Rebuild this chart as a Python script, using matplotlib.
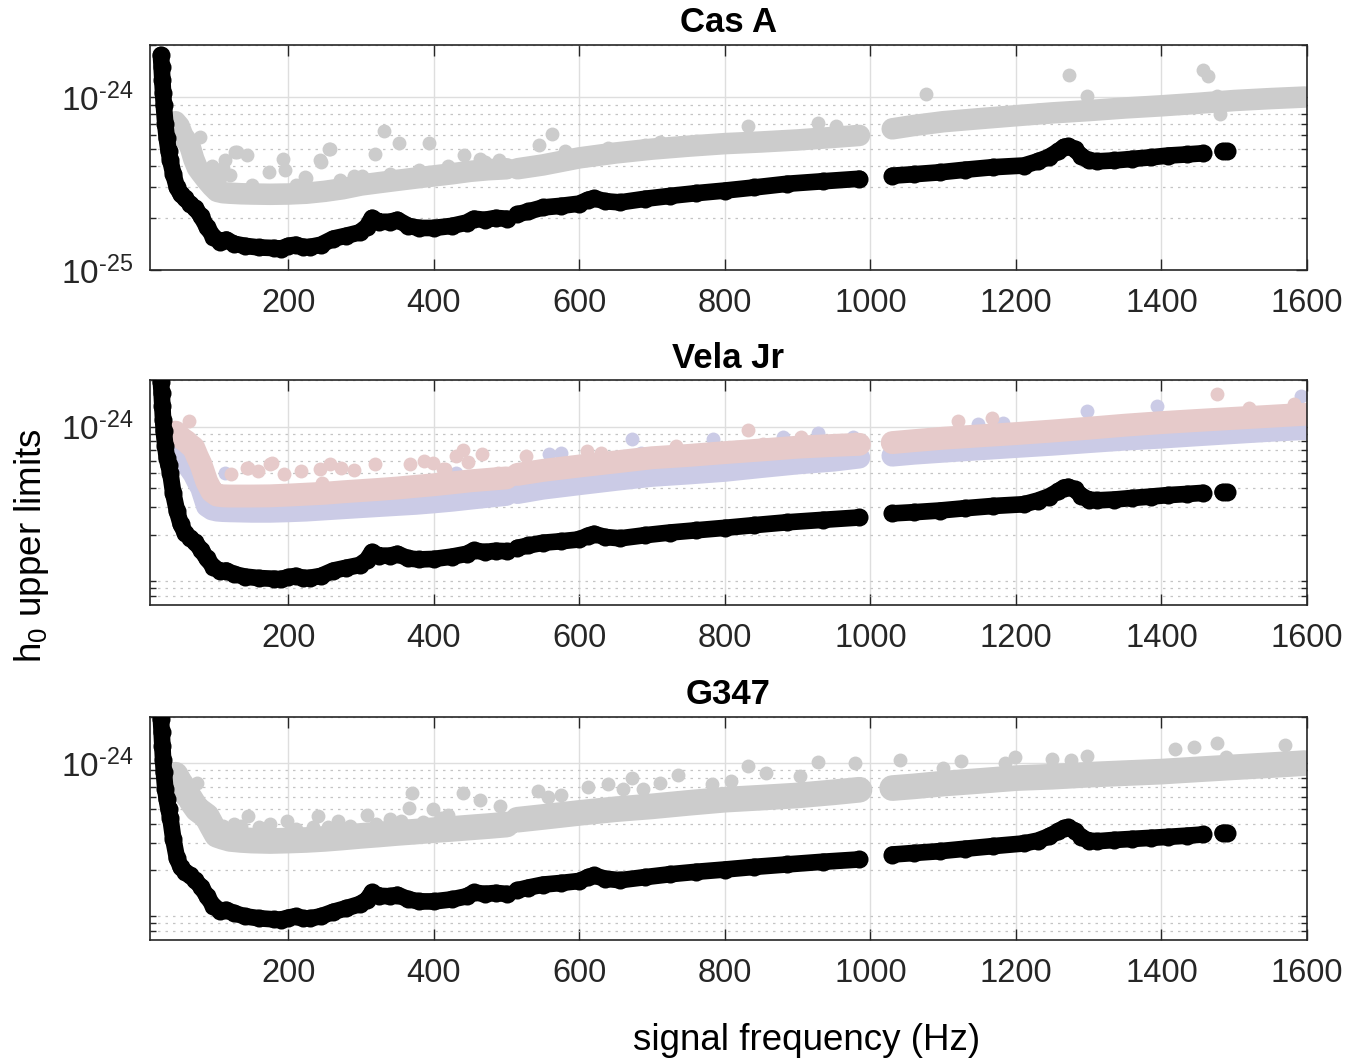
import numpy as np
import matplotlib
matplotlib.use('Agg')
import matplotlib.pyplot as plt
from matplotlib.ticker import FixedLocator, NullFormatter, FixedFormatter

plt.rcParams['font.family'] = ['Liberation Sans', 'DejaVu Sans']
plt.rcParams['mathtext.fontset'] = 'custom'
plt.rcParams['mathtext.rm'] = 'Liberation Sans'
plt.rcParams['mathtext.it'] = 'Liberation Sans:italic'
plt.rcParams['mathtext.bf'] = 'Liberation Sans:bold'

nan = float('nan')
UNIT = 1e-25  # all h0 values below are in units of 1e-25

# ---------------- sensitivity curve (black), shared frequency grid ----------------
F_BLACK = [25, 26, 27, 28, 29, 31, 33, 35.5, 38, 42,
           47, 52, 58, 65, 72, 80, 88, 97, 106, 115,
           125, 140, 160, 180, 190, 200, 210, 220, 230, 245,
           262, 280, 298, 308, 315, 325, 340, 350, 365, 380,
           400, 425, 445, 455, 470, 485, 500, nan,
           515, 530, 550, 575, 600, 612, 620, 635, 656, 690,
           724, 760, 800, 840, 885, 935, 985, nan,
           1030, 1060, 1095, 1130, 1168, 1211, 1230, 1245, 1258, 1266,
           1272, 1281, 1290, 1300, 1312, 1335, 1360, 1385, 1409, 1435,
           1457, nan, 1484, 1490]

CASA_BLACK = [17.5, 15.0, 12.5, 10.5, 9.0, 7.0, 5.8, 4.9, 4.3, 3.6,
              3.0, 2.75, 2.6, 2.41, 2.28, 2.05, 1.78, 1.56, 1.46, 1.50,
              1.42, 1.38, 1.35, 1.34, 1.33, 1.38, 1.40, 1.36, 1.36, 1.40,
              1.52, 1.58, 1.65, 1.78, 2.00, 1.90, 1.90, 1.95, 1.80, 1.75,
              1.75, 1.80, 1.88, 1.98, 1.95, 2.00, 1.98, nan,
              2.10, 2.18, 2.30, 2.35, 2.42, 2.55, 2.60, 2.50, 2.46, 2.58,
              2.68, 2.78, 2.88, 3.00, 3.15, 3.26, 3.37, nan,
              3.51, 3.58, 3.67, 3.80, 3.93, 4.02, 4.25, 4.50, 4.85, 5.15,
              5.20, 5.00, 4.55, 4.30, 4.25, 4.30, 4.39, 4.48, 4.59, 4.66,
              4.73, nan, 4.86, 4.86]

VELA_BLACK = [19.5, 16.5, 13.5, 11.0, 9.3, 7.5, 6.3, 5.6, 5.0, 3.7,
              2.85, 2.35, 2.05, 1.90, 1.78, 1.60, 1.40, 1.24, 1.16, 1.17,
              1.11, 1.07, 1.045, 1.035, 1.03, 1.06, 1.08, 1.05, 1.05, 1.08,
              1.17, 1.22, 1.27, 1.37, 1.54, 1.46, 1.46, 1.50, 1.40, 1.38,
              1.39, 1.44, 1.50, 1.58, 1.54, 1.57, 1.56, nan,
              1.64, 1.70, 1.77, 1.81, 1.86, 1.97, 2.02, 1.93, 1.89, 1.98,
              2.06, 2.13, 2.21, 2.30, 2.40, 2.49, 2.58, nan,
              2.74, 2.79, 2.86, 2.96, 3.06, 3.14, 3.32, 3.52, 3.80, 4.03,
              4.07, 3.92, 3.56, 3.37, 3.33, 3.37, 3.45, 3.52, 3.60, 3.66,
              3.72, nan, 3.76, 3.76]

G347_BLACK = [19.5, 16.0, 13.0, 10.5, 8.8, 6.8, 5.8, 5.0, 4.4, 3.2,
              2.40, 2.10, 1.95, 1.85, 1.72, 1.56, 1.36, 1.17, 1.09, 1.10,
              1.05, 1.00, 0.97, 0.955, 0.95, 0.98, 1.00, 0.97, 0.97, 1.00,
              1.07, 1.13, 1.20, 1.28, 1.43, 1.36, 1.35, 1.38, 1.29, 1.25,
              1.25, 1.29, 1.35, 1.43, 1.40, 1.42, 1.40, nan,
              1.48, 1.54, 1.61, 1.65, 1.70, 1.80, 1.85, 1.76, 1.72, 1.80,
              1.88, 1.95, 2.02, 2.10, 2.18, 2.27, 2.35, nan,
              2.53, 2.59, 2.66, 2.76, 2.87, 2.99, 3.12, 3.32, 3.58, 3.76,
              3.80, 3.62, 3.28, 3.12, 3.09, 3.15, 3.20, 3.25, 3.30, 3.36,
              3.42, nan, 3.50, 3.50]

# ---------------- upper-limit bands (centre of the dense band) ----------------
F_BAND = [45, 50, 55, 60, 65, 70, 75, 80, 88, 95,
          102, 110, 120, 135, 150, 175, 200, 225, 250, 275,
          300, 325, 350, 375, 400, 425, 450, 475, 500, nan,
          515, 550, 600, 650, 700, 750, 800, 850, 900, 950,
          985, nan,
          1030, 1060, 1100, 1150, 1200, 1250, 1300, 1350, 1400, 1450,
          1500, 1550, 1597]

CASA_BAND = [7.2, 6.8, 6.0, 5.6, 5.2, 4.4, 3.9, 3.65, 3.3, 3.05,
             2.85, 2.80, 2.78, 2.76, 2.75, 2.74, 2.75, 2.78, 2.85, 2.95,
             3.10, 3.20, 3.30, 3.40, 3.50, 3.60, 3.72, 3.80, 3.85, nan,
             3.85, 4.05, 4.45, 4.75, 5.0, 5.2, 5.38, 5.50, 5.65, 5.85,
             6.0, nan,
             6.55, 6.85, 7.2, 7.5, 7.8, 8.1, 8.35, 8.65, 8.9, 9.2,
             9.55, 9.8, 10.0]

VELA_BLUE_BAND = [7.3, 6.6, 6.2, 5.8, 5.3, 4.9, 4.4, 4.0, 3.05, 2.9,
                  2.85, 2.83, 2.82, 2.81, 2.80, 2.80, 2.82, 2.85, 2.90, 2.95,
                  3.0, 3.05, 3.1, 3.15, 3.22, 3.3, 3.4, 3.5, 3.6, nan,
                  3.7, 3.95, 4.22, 4.5, 4.78, 4.95, 5.15, 5.45, 5.75, 6.0,
                  6.28, nan,
                  6.46, 6.65, 6.85, 7.1, 7.35, 7.6, 7.9, 8.2, 8.45, 8.75,
                  9.05, 9.35, 9.6]

VELA_PINK_BAND = [9.2, 8.7, 8.3, 8.0, 7.6, 7.3, 6.4, 5.7, 4.4, 3.8,
                  3.6, 3.56, 3.55, 3.55, 3.55, 3.56, 3.6, 3.65, 3.7, 3.78,
                  3.85, 3.92, 4.0, 4.1, 4.2, 4.32, 4.45, 4.55, 4.65, nan,
                  4.9, 5.2, 5.55, 5.9, 6.28, 6.5, 6.78, 7.05, 7.35, 7.55,
                  7.67, nan,
                  7.87, 8.1, 8.4, 8.7, 9.0, 9.35, 9.75, 10.2, 10.6, 10.95,
                  11.3, 11.65, 12.0]

G347_BAND = [8.4, 7.6, 7.0, 6.3, 5.9, 5.4, 5.0, 4.8, 4.5, 3.9,
             3.4, 3.3, 3.2, 3.15, 3.12, 3.1, 3.12, 3.15, 3.2, 3.27,
             3.35, 3.42, 3.5, 3.57, 3.65, 3.72, 3.8, 3.88, 3.97, nan,
             4.27, 4.45, 4.73, 5.0, 5.22, 5.5, 5.77, 5.95, 6.15, 6.45,
             6.7, nan,
             6.87, 7.05, 7.35, 7.65, 7.98, 8.15, 8.4, 8.6, 8.8, 9.1,
             9.4, 9.7, 10.0]

# ---------------- scattered upper limits above the bands ----------------
CASA_OUT_F = [48, 54, 56, 60, 72, 79, 88, 95, 97, 106,
              111, 113, 120, 127, 129, 143, 173, 193, 196, 223,
              225, 244, 245, 256, 258, 271, 302, 319, 332, 352,
              393, 441, 463, 544, 563, 711, 832, 928, 953, 1077,
              1273, 1298, 1457, 1464, 1476, 1481,
              150, 210, 290, 340, 380, 420, 470, 490, 580, 640,
              690, 760, 880, 980, 1040, 1120, 1180, 1230, 1340, 1400,
              1430, 1520, 1560]
CASA_OUT_V = [7.2, 6.9, 5.9, 5.9, 4.7, 5.9, 3.6, 4.0, 3.9, 3.4,
              3.9, 4.3, 3.55, 4.8, 4.8, 4.6, 3.7, 4.4, 3.8, 3.45,
              3.4, 4.3, 4.2, 5.0, 5.0, 3.3, 3.5, 4.7, 6.4, 5.4,
              5.4, 4.6, 4.4, 5.3, 6.1, 5.5, 6.8, 7.1, 6.8, 10.45,
              13.5, 10.1, 14.3, 13.2, 10.2, 8.0,
              3.1, 3.1, 3.5, 3.6, 3.8, 4.0, 4.2, 4.3, 4.9, 5.1,
              5.3, 5.6, 5.9, 6.3, 7.0, 7.7, 8.1, 8.4, 9.0, 9.2,
              9.5, 10.0, 10.3]

VELA_PINK_OUT_F = [49, 63, 122, 143, 145, 159, 175, 178, 194, 217,
                   244, 247, 258, 272, 290, 319, 367, 386, 399, 413,
                   415, 431, 440, 447, 466, 488, 527, 610, 630, 733,
                   832, 852, 905, 979, 1120, 1167, 1476, 1520, 1582]
VELA_PINK_OUT_V = [9.6, 10.9, 4.9, 5.4, 5.4, 5.15, 5.75, 5.8, 4.9, 5.15,
                   5.3, 4.33, 5.7, 5.4, 5.2, 5.7, 5.7, 6.0, 5.8, 5.3,
                   5.3, 6.45, 7.1, 5.9, 6.6, 5.0, 6.45, 6.9, 6.75, 7.5,
                   9.45, 7.7, 8.5, 8.3, 10.9, 11.3, 16.2, 13.25, 13.9]

VELA_BLUE_OUT_F = [113, 431, 559, 575, 672, 685, 708, 784, 880, 928,
                   976, 1148, 1182, 1298, 1394, 1568, 1592]
VELA_BLUE_OUT_V = [5.0, 5.0, 6.6, 6.75, 8.3, 6.75, 6.4, 8.3, 8.6, 9.1,
                   8.5, 10.35, 10.6, 12.6, 13.6, 12.6, 15.8]

G347_OUT_F = [47, 55, 75, 88, 110, 125, 135, 145, 160, 175,
              198, 210, 234, 241, 255, 269, 285, 308, 320, 340,
              355, 366, 370, 385, 399, 410, 420, 440, 463, 491,
              543, 557, 575, 612, 640, 660, 672, 688, 711, 736,
              782, 809, 832, 857, 903, 928, 979, 1041, 1100, 1125,
              1185, 1199, 1250, 1276, 1297, 1418, 1445, 1476, 1488, 1570]
G347_OUT_V = [8.4, 8.0, 7.4, 4.73, 3.9, 4.0, 3.9, 4.5, 3.8, 4.0,
              4.2, 3.7, 3.8, 4.5, 3.8, 4.17, 3.9, 4.6, 4.0, 4.3,
              4.2, 5.1, 6.38, 4.1, 5.0, 4.4, 4.6, 6.38, 5.7, 5.22,
              6.53, 6.0, 6.2, 6.98, 7.3, 6.8, 7.98, 6.8, 7.4, 8.4,
              7.35, 7.6, 9.6, 8.6, 8.2, 10.2, 10.0, 10.5, 9.3, 10.25,
              10.0, 10.9, 10.6, 10.5, 11.1, 12.3, 12.8, 13.5, 11.0, 13.2]

TITLES = ['Cas A', 'Vela Jr', 'G347']
X_TICKS = [200, 400, 600, 800, 1000, 1200, 1400, 1600]

for a in (CASA_BLACK, VELA_BLACK, G347_BLACK):
    assert len(a) == len(F_BLACK)
for a in (CASA_BAND, VELA_BLUE_BAND, VELA_PINK_BAND, G347_BAND):
    assert len(a) == len(F_BAND)
assert len(CASA_OUT_F) == len(CASA_OUT_V)
assert len(VELA_PINK_OUT_F) == len(VELA_PINK_OUT_V)
assert len(VELA_BLUE_OUT_F) == len(VELA_BLUE_OUT_V)
assert len(G347_OUT_F) == len(G347_OUT_V)

GRAY = '#CCCCCC'
PINK = '#E6CACA'
BLUE = '#CBCBE6'
AXC = '#262626'

W, H = 1349, 1060
fig = plt.figure(figsize=(W / 100, H / 100), dpi=100)

DOT_PT = 10.0
DOT_S = DOT_PT ** 2
BLACK_LW = 12.0


def h(vals):
    return np.asarray(vals, dtype=float) * UNIT


def draw_band(ax, vals, color, lw):
    ax.plot(F_BAND, h(vals), color=color, lw=lw, solid_capstyle='round',
            solid_joinstyle='round', zorder=2)


def draw_out(ax, f, v, color):
    ax.scatter(f, h(v), s=DOT_S, color=color, linewidths=0, zorder=2)


def draw_black(ax, vals):
    ax.plot(F_BLACK, h(vals), color='k', lw=BLACK_LW, solid_capstyle='round',
            solid_joinstyle='round', zorder=3)
    ax.scatter(F_BLACK, h(vals), s=(BLACK_LW + 1) ** 2, color='k', linewidths=0, zorder=3)


panels = [(45, 270), (380, 605), (717, 940)]
axes = []
for (top, bot) in panels:
    ax = fig.add_axes([150 / W, 1 - bot / H, (1307 - 150) / W, (bot - top) / H])
    axes.append(ax)

# Cas A
ax = axes[0]
draw_band(ax, CASA_BAND, GRAY, 15.5)
draw_out(ax, CASA_OUT_F, CASA_OUT_V, GRAY)
draw_black(ax, CASA_BLACK)

# Vela Jr
ax = axes[1]
draw_band(ax, VELA_BLUE_BAND, BLUE, 15.5)
draw_out(ax, VELA_BLUE_OUT_F, VELA_BLUE_OUT_V, BLUE)
draw_band(ax, VELA_PINK_BAND, PINK, 16.5)
draw_out(ax, VELA_PINK_OUT_F, VELA_PINK_OUT_V, PINK)
draw_black(ax, VELA_BLACK)

# G347
ax = axes[2]
draw_band(ax, G347_BAND, GRAY, 18.5)
draw_out(ax, G347_OUT_F, G347_OUT_V, GRAY)
draw_black(ax, G347_BLACK)

ylims = [(1e-25, 2e-24), (7e-26, 2e-24), (7e-26, 2e-24)]
for i, ax in enumerate(axes):
    ax.set_yscale('log')
    ax.set_xlim(10, 1600)
    ax.set_ylim(*ylims[i])
    ax.set_xticks(X_TICKS)
    ax.set_xticklabels([str(t) for t in X_TICKS])
    if i == 0:
        ax.yaxis.set_major_locator(FixedLocator([1e-25, 1e-24]))
        ax.yaxis.set_major_formatter(FixedFormatter([r'$10^{\text{-}25}$', r'$10^{\text{-}24}$']))
        minors = [k * 1e-25 for k in range(2, 10)] + [2e-24]
    else:
        ax.yaxis.set_major_locator(FixedLocator([1e-24]))
        ax.yaxis.set_major_formatter(FixedFormatter([r'$10^{\text{-}24}$']))
        minors = [8e-26, 9e-26, 1e-25] + [k * 1e-25 for k in range(2, 10)] + [2e-24]
    ax.yaxis.set_minor_locator(FixedLocator(minors))
    ax.yaxis.set_minor_formatter(NullFormatter())
    ax.xaxis.set_minor_locator(FixedLocator([]))
    ax.set_axisbelow(True)
    ax.grid(which='major', color='#DEDEDE', lw=1.0, ls='-')
    ax.grid(which='minor', axis='y', color='#C4C4C4', lw=0.9, ls=(0, (2.0, 4.0)))
    ax.tick_params(which='both', direction='in', top=True, right=True,
                   color=AXC, labelcolor=AXC, width=1.0)
    ax.tick_params(which='major', length=8)
    ax.tick_params(axis='x', which='major', pad=13, labelsize=23.5)
    ax.tick_params(axis='y', which='major', pad=12, labelsize=24)
    ax.tick_params(which='minor', length=4.5)
    for sp in ax.spines.values():
        sp.set_color(AXC)
        sp.set_linewidth(1.2)
    ax.set_title(TITLES[i], fontsize=25, fontweight='bold', pad=9, color='k')

fig.text(807 / W, 1 - 1041 / H, 'signal frequency (Hz)', fontsize=26.5,
         ha='center', va='center', color='k')
fig.text(32 / W, 1 - 546 / H, r'h$_0$ upper limits', fontsize=26.5,
         ha='center', va='center', rotation=90, color='k')

fig.savefig('out.png', dpi=100)
